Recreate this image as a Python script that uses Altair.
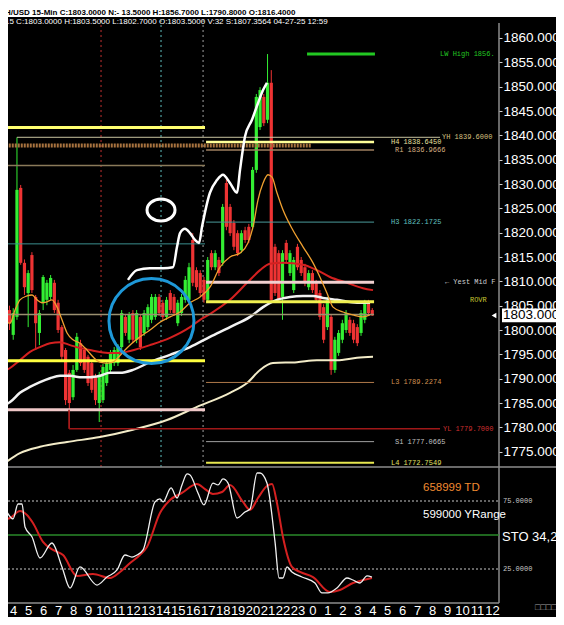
import altair as alt
import pandas as pd

# ---------------- header texts ----------------
header_row1 = "H/USD 15-Min  C:1803.0000  N:- 13.5000  H:1856.7000  L:1790.8000  O:1816.4000"
header_row2 = "15 C:1803.0000 H:1803.5000 L:1802.7000 O:1803.5000 V:32 S:1807.3564 04-27-25 12:59"

# ---------------- 15-minute candles (time in hours from Apr 26 00:00) ----------------
bar_t0 = 3.25
bar_dt = 0.25
opens = [1810.3, 1808.2, 1804.1, 1799.0, 1802.7, 1829.2, 1813.8, 1807.6, 1815.4, 1806.8,
         1799.4, 1805.6, 1806.2, 1806.8, 1809.7, 1805.6, 1800.6, 1795.9, 1791.2, 1786.2,
         1791.8, 1797.3, 1795.9, 1794.5, 1793.2, 1790.3, 1785.0, 1785.6, 1789.1, 1791.8,
         1793.2, 1793.2, 1796.5, 1802.7, 1798.0, 1803.5, 1798.0, 1802.7, 1799.4, 1800.6,
         1802.1, 1802.7, 1806.8, 1805.6, 1802.7, 1807.6, 1806.8, 1801.4, 1803.5, 1806.2,
         1806.2, 1818.5, 1812.3, 1811.7, 1810.3, 1806.2, 1815.8, 1812.9, 1814.4, 1813.8,
         1830.2, 1825.3, 1822.0, 1819.9, 1816.4, 1820.5, 1821.2, 1821.2, 1832.9, 1841.7,
         1847.9, 1843.2, 1850.8, 1817.1, 1815.8, 1806.8, 1817.9, 1811.7, 1808.2, 1817.1,
         1814.4, 1812.9, 1808.8, 1811.7, 1809.7, 1807.6, 1804.7, 1800.6, 1802.7, 1791.8,
         1795.3, 1798.0, 1800.0, 1802.1, 1801.4, 1800.6, 1799.4, 1802.1, 1805.6, 1804.1]
highs = [1810.9, 1809.2, 1805.0, 1804.5, 1839.6, 1829.8, 1814.5, 1812.3, 1816.0, 1807.2,
         1804.1, 1811.3, 1810.3, 1811.3, 1810.3, 1806.2, 1801.0, 1796.3, 1791.8, 1792.8,
         1799.4, 1798.0, 1796.5, 1794.9, 1793.8, 1791.0, 1791.4, 1793.0, 1793.8, 1795.9,
         1796.5, 1797.1, 1804.1, 1803.3, 1803.7, 1804.1, 1804.1, 1803.3, 1804.1, 1805.3,
         1807.4, 1807.4, 1807.4, 1806.2, 1806.8, 1808.2, 1807.4, 1806.2, 1807.4, 1811.1,
         1813.8, 1819.9, 1812.9, 1812.3, 1810.9, 1815.0, 1816.4, 1816.4, 1815.0, 1825.9,
         1831.2, 1825.9, 1822.6, 1820.5, 1820.5, 1821.2, 1821.8, 1833.5, 1848.5, 1849.9,
         1848.5, 1856.7, 1853.4, 1817.7, 1816.4, 1816.4, 1818.5, 1816.4, 1815.0, 1817.7,
         1815.0, 1813.6, 1812.3, 1812.3, 1810.3, 1808.2, 1805.3, 1806.8, 1803.3, 1798.6,
         1800.0, 1802.1, 1804.1, 1802.7, 1802.1, 1801.2, 1804.1, 1806.2, 1806.2, 1804.5]
lows = [1805.6, 1804.1, 1800.0, 1798.0, 1802.1, 1813.4, 1807.2, 1800.6, 1807.6, 1795.9,
        1796.9, 1804.1, 1805.1, 1806.2, 1803.5, 1799.4, 1793.8, 1784.6, 1779.7, 1785.6,
        1791.4, 1792.6, 1791.2, 1788.5, 1787.1, 1784.6, 1781.1, 1785.0, 1788.5, 1791.2,
        1792.6, 1792.6, 1795.9, 1798.8, 1797.3, 1797.3, 1797.3, 1795.9, 1798.8, 1800.0,
        1801.4, 1802.1, 1802.9, 1802.1, 1802.1, 1803.5, 1802.9, 1800.8, 1802.9, 1805.6,
        1805.6, 1809.0, 1808.2, 1807.0, 1805.6, 1805.6, 1812.3, 1812.3, 1811.1, 1813.2,
        1820.5, 1819.3, 1816.4, 1815.2, 1815.8, 1817.9, 1817.9, 1820.5, 1832.3, 1841.1,
        1841.9, 1842.5, 1805.6, 1807.0, 1805.6, 1802.1, 1813.8, 1811.1, 1807.6, 1812.3,
        1811.1, 1809.0, 1808.2, 1807.6, 1805.6, 1802.1, 1797.3, 1800.0, 1790.8, 1791.2,
        1794.7, 1797.3, 1799.4, 1798.8, 1797.3, 1796.7, 1798.8, 1801.4, 1802.9, 1802.9]
closes = [1806.2, 1804.7, 1801.4, 1803.5, 1828.8, 1813.8, 1808.8, 1811.7, 1808.2, 1801.4,
          1803.5, 1810.9, 1809.7, 1810.7, 1804.1, 1800.0, 1794.5, 1785.6, 1785.0, 1791.8,
          1798.6, 1793.2, 1791.8, 1789.1, 1787.7, 1785.6, 1790.8, 1792.4, 1793.2, 1795.3,
          1795.9, 1796.5, 1803.5, 1799.4, 1803.1, 1798.0, 1803.5, 1796.5, 1803.5, 1804.7,
          1806.8, 1806.8, 1803.5, 1802.7, 1806.2, 1804.1, 1803.5, 1805.6, 1806.8, 1810.3,
          1812.9, 1809.7, 1808.8, 1807.6, 1806.2, 1814.4, 1812.9, 1815.8, 1811.7, 1825.3,
          1821.2, 1819.9, 1817.1, 1815.8, 1819.9, 1818.5, 1818.5, 1832.9, 1847.9, 1849.3,
          1842.5, 1850.8, 1806.2, 1807.6, 1806.2, 1815.8, 1814.4, 1815.8, 1814.4, 1812.9,
          1811.7, 1809.7, 1811.7, 1808.2, 1806.2, 1802.7, 1798.0, 1806.2, 1791.8, 1798.0,
          1799.4, 1801.4, 1803.5, 1799.4, 1798.0, 1797.3, 1803.5, 1805.6, 1803.5, 1803.0]

# ---------------- moving averages ----------------
ma_orange_t = [3.12, 3.45, 3.79, 4.12, 4.45, 4.92, 5.26, 5.59, 5.92, 6.26, 6.59, 6.93, 7.26, 7.6,
               8.0, 8.46, 8.93, 9.33, 9.8, 10.27, 10.67, 11.0, 11.47, 11.94, 12.48, 13.14, 13.81,
               14.48, 15.15, 15.82, 16.49, 17.15, 17.82, 18.49, 19.16, 19.69, 20.03, 20.36, 20.7,
               21.03, 21.3, 21.63, 22.03, 22.7, 23.37, 24.04, 24.5, 24.97, 25.38, 26.04, 26.71,
               27.38, 27.85]
ma_orange_p = [1800.6, 1801.6, 1801.4, 1804.1, 1806.2, 1807.0, 1807.2, 1806.2, 1805.6, 1805.8,
               1806.2, 1804.7, 1802.1, 1799.4, 1798.0, 1797.3, 1795.9, 1794.5, 1793.4, 1793.2,
               1793.4, 1794.3, 1795.9, 1797.3, 1798.6, 1800.0, 1801.6, 1802.7, 1803.7, 1805.6,
               1806.8, 1808.8, 1812.9, 1815.0, 1815.8, 1817.9, 1821.2, 1826.7, 1830.2, 1831.9,
               1831.4, 1828.2, 1824.7, 1820.5, 1817.1, 1813.8, 1810.9, 1807.6, 1804.7, 1803.7,
               1803.1, 1802.7, 1803.1]
ma_red_t = [3.12, 3.79, 4.45, 5.12, 5.79, 6.46, 7.13, 7.8, 8.46, 9.13, 9.8, 10.47, 11.14, 11.81,
            13.14, 14.48, 15.82, 16.49, 17.15, 18.49, 19.63, 20.5, 21.16, 22.03, 23.37, 24.3,
            25.17, 26.31, 27.38, 28.05]
ma_red_p = [1791.2, 1792.2, 1793.8, 1795.5, 1796.5, 1797.3, 1797.5, 1796.9, 1796.3, 1795.9,
            1795.5, 1795.3, 1795.3, 1795.7, 1796.9, 1798.4, 1800.6, 1802.1, 1803.3, 1806.2,
            1809.7, 1812.3, 1813.6, 1813.8, 1813.4, 1812.3, 1810.9, 1809.7, 1808.6, 1808.2]
ma_white_t = [3.12, 3.79, 4.45, 5.12, 5.79, 6.46, 7.13, 7.8, 8.46, 9.13, 9.8, 10.47, 11.14, 12.0,
              13.14, 14.48, 15.82, 17.15, 18.49, 19.83, 20.7, 21.63, 22.5, 23.37, 24.04, 24.7,
              25.64, 26.98, 27.85]
ma_white_p = [1784.2, 1785.2, 1787.1, 1788.3, 1789.3, 1790.1, 1790.6, 1790.6, 1790.3, 1790.3,
              1790.6, 1791.2, 1791.2, 1791.8, 1793.4, 1794.9, 1796.5, 1798.6, 1800.6, 1802.7,
              1804.7, 1806.2, 1806.8, 1807.0, 1807.0, 1806.6, 1806.2, 1805.6, 1805.6]
ma_cream_t = [3.12, 4.45, 5.79, 7.6, 9.8, 12.0, 14.28, 16.28, 18.49, 19.63, 20.5, 21.36, 22.97,
              24.3, 25.64, 26.98, 28.05]
ma_cream_p = [1771.9, 1774.7, 1776.0, 1777.0, 1778.0, 1779.5, 1781.5, 1784.2, 1787.1, 1789.1,
              1791.8, 1793.2, 1793.4, 1793.8, 1793.8, 1794.3, 1794.5]

# hand-drawn white stroke
draw_t = [11.67, 12.27, 13.14, 14.01, 14.68, 14.95, 15.15, 15.48, 15.82, 16.15, 16.42, 16.62,
          17.15, 17.62, 18.02, 18.49, 18.96, 19.16, 19.49, 19.96, 20.36, 20.7, 20.96]
draw_p = [1810.3, 1812.3, 1812.7, 1812.7, 1812.9, 1817.1, 1819.9, 1820.8, 1819.9, 1818.5, 1817.9,
          1821.2, 1828.2, 1830.8, 1831.9, 1830.2, 1828.2, 1832.9, 1839.7, 1843.2, 1846.6, 1849.3,
          1850.8]

# ---------------- horizontal levels ----------------
lvl_price = [1856.7, 1841.6, 1839.6, 1838.645, 1836.9666, 1833.8, 1822.1725, 1817.7, 1809.8,
             1805.8, 1803.2, 1793.7, 1789.2274, 1783.6, 1779.7, 1777.0665, 1772.7549]
lvl_t0 = [23.64, 3.1, 4.25, 16.89, 16.89, 3.1, 16.89, 3.1, 16.89, 16.89, 3.1, 3.1, 16.89, 3.1,
          7.73, 16.89, 16.89]
lvl_t1 = [28.18, 16.82, 32.53, 28.12, 28.12, 16.82, 28.12, 16.82, 28.12, 28.12, 28.12, 16.82,
          28.12, 16.82, 32.53, 28.12, 28.12]
lvl_color = ["#22c822", "#ffff70", "#c8c4a0", "#ffff99", "#a08060", "#8a7a5a", "#4a9a9a",
             "#3a8f8f", "#f0d0d0", "#f0f050", "#9a9070", "#ffff40", "#b07a4a", "#f0c8c8",
             "#a01818", "#a0a0a0", "#e8e850"]
lvl_width = [3, 3, 1, 2.5, 1.5, 1.5, 1, 1, 3, 3, 1.5, 3, 1, 3, 1.5, 1, 2]

dotted_price = [1837.9]
dotted_t0 = [3.1]
dotted_t1 = [23.9]

conn_t = [7.73]
conn_p0 = [1783.6]
conn_p1 = [1779.7]

lvl_lab_text = ["LW High 1856.", "YH 1839.6000", "H4 1838.6450", "R1 1836.9666", "H3 1822.1725",
                "\u2190 Yest Mid F", "ROVR", "L3 1789.2274", "YL 1779.7000", "S1 1777.0665",
                "L4 1772.7549"]
lvl_lab_t = [32.53, 32.66, 29.25, 29.52, 29.25, 32.86, 34.53, 29.25, 32.73, 29.52, 29.25]
lvl_lab_p = [1856.7, 1839.6, 1838.645, 1836.9666, 1822.1725, 1809.8, 1806.2, 1789.2274,
             1779.7, 1777.0665, 1772.7549]
lvl_lab_color = ["#22c822", "#d8c080", "#e8e0a0", "#d8b080", "#60c0c0", "#d0d0d0", "#c8c832",
                 "#d09050", "#d03030", "#c0c0c0", "#e0e060"]

# session separators
sess_t = [9.87, 13.88, 16.69]
sess_color = ["#c03030", "#60c0c0", "#a0a0a0"]

# annotations (ellipse and circle)
ellipse_t = [13.88]
ellipse_p = [1824.66]
circle_t = [13.24]
circle_p = [1801.85]

last_price = [1803.0]

# ---------------- stochastic ----------------
k_t = [3.12, 3.45, 3.99, 4.32, 4.59, 4.79, 5.26, 5.79, 6.59, 7.26, 7.8, 8.46, 9.6, 10.27, 10.94,
       11.47, 11.94, 12.27, 12.68, 13.48, 13.81, 14.01, 14.55, 14.95, 15.28, 15.62, 15.82, 16.35,
       16.75, 17.35, 17.69, 18.02, 18.36, 18.96, 19.49, 19.83, 20.3, 20.5, 20.96, 21.5, 21.77,
       22.03, 22.3, 22.63, 23.3, 24.17, 24.64, 25.04, 25.64, 26.31, 26.71, 27.18, 27.65, 27.98]
k_v = [70.6, 68.4, 61.8, 72.8, 72.8, 55.9, 48.5, 33.1, 44.1, 26.5, 11.0, 26.5, 13.2, 19.1, 24.3,
       35.3, 33.8, 35.3, 39.0, 74.3, 76.5, 74.3, 84.6, 77.2, 86.8, 94.9, 94.1, 80.9, 72.1, 88.2,
       86.8, 91.2, 88.2, 62.5, 66.9, 69.1, 95.6, 95.6, 88.2, 44.9, 18.4, 18.4, 26.5, 22.8, 19.1,
       14.7, 7.4, 7.4, 11.0, 18.4, 16.9, 14.7, 19.9, 19.1]
d_t = [3.12, 3.79, 4.45, 4.92, 5.32, 5.99, 6.66, 7.33, 8.26, 9.33, 10.47, 11.14, 11.81, 12.47,
       12.94, 13.81, 14.48, 15.28, 16.28, 16.82, 17.35, 17.96, 18.49, 19.36, 19.83, 20.36, 20.96,
       21.3, 21.63, 22.03, 22.63, 23.17, 24.04, 25.17, 25.84, 26.71, 27.38, 27.98]
d_v = [61.0, 62.5, 67.6, 64.7, 58.8, 44.9, 39.0, 35.3, 19.9, 21.3, 18.4, 22.8, 29.4, 35.3, 41.2,
       66.2, 75.7, 80.9, 87.5, 83.8, 80.1, 81.6, 86.8, 74.3, 68.4, 77.2, 86.0, 87.5, 73.5, 48.5,
       26.5, 22.8, 19.1, 8.1, 9.6, 14.7, 16.9, 18.4]
sto_dashed = [75, 25]
sto_mid = [50]
sto_texts = ["658999 TD", "599000 YRange"]
sto_text_v = [84.6, 64.7]
sto_text_color = ["#f08a30", "#ffffff"]
sto_name = "STO  34,2"

price_ticks = [1775, 1780, 1785, 1790, 1795, 1800, 1805, 1810, 1815, 1820, 1825, 1830, 1835,
               1840, 1845, 1850, 1855, 1860]
hour_ticks = list(range(4, 37))
date_labels = ["Apr 26 Sat", "Apr 27 Sun"]
date_t = [3.5, 23.95]

# ---------------- scales ----------------
W, H = 491, 583
xs = alt.Scale(domain=[3.651, 36.472], nice=False, zero=False)
ps = alt.Scale(domain=[1771.856, 1863.698], range=[447, 0], nice=False, zero=False)
ss = alt.Scale(domain=[0, 100], range=[583, 447], nice=False, zero=False)
FONT = "Liberation Sans"

XAX = alt.Axis(values=hour_ticks, labelExpr="datum.value >= 24 ? datum.value - 24 : datum.value",
               labelColor="#ffffff", labelFontSize=13, labelFont=FONT, tickSize=0,
               domain=False, grid=False, labelPadding=1, labelOverlap=False, labelBound=False,
               labelFlush=False, title=None)
PAX = alt.Axis(orient="right", values=price_ticks, format=".4f", labelColor="#ffffff",
               labelFontSize=13.5, labelFont=FONT, tickColor="#d0d0d0", tickSize=3,
               labelPadding=1, domain=False, grid=False, labelOverlap=False, labelBound=False,
               labelFlush=False, title=None)


def X(f):
    return alt.X(f, type="quantitative", scale=xs, axis=XAX, title=None)


def YP(f, axis=None):
    return alt.Y(f, type="quantitative", scale=ps, axis=axis, title=None)


def YS(f):
    return alt.Y(f, type="quantitative", scale=ss, axis=None, title=None)


one = pd.DataFrame({"k": [0]})
layers = []

# session separators
sess = pd.DataFrame({"t": sess_t, "c": sess_color})
layers.append(alt.Chart(sess).mark_rule(strokeWidth=1, strokeDash=[2, 3]).encode(
    x=X("t"), y=alt.value(0), y2=alt.value(447), color=alt.Color("c:N", scale=None)))

# candles
bars = pd.DataFrame({"t": [bar_t0 + bar_dt * i for i in range(len(opens))],
                     "o": opens, "h": highs, "l": lows, "c": closes})
bars["col"] = ["#33ee33" if c >= o else "#ee3333" for o, c in zip(opens, closes)]
layers.append(alt.Chart(bars).mark_rule(strokeWidth=1).encode(
    x=X("t"), y=YP("l", PAX), y2="h:Q", color=alt.Color("col:N", scale=None)))
layers.append(alt.Chart(bars).mark_rule(strokeWidth=3.2).encode(
    x=X("t"), y=YP("o"), y2="c:Q", color=alt.Color("col:N", scale=None)))


def line(ts, vs, color, width, yfun=YP):
    df = pd.DataFrame({"t": ts, "p": vs})
    return alt.Chart(df).mark_line(color=color, strokeWidth=width, interpolate="monotone").encode(
        x=X("t"), y=yfun("p"))


layers.append(line(ma_cream_t, ma_cream_p, "#f3ecc8", 2))
layers.append(line(ma_white_t, ma_white_p, "#f2f2f2", 2.5))
layers.append(line(ma_red_t, ma_red_p, "#d42020", 2))

# levels
lv = pd.DataFrame({"p": lvl_price, "t0": lvl_t0, "t1": lvl_t1, "c": lvl_color, "w": lvl_width})
layers.append(alt.Chart(lv).mark_rule().encode(
    x=X("t0"), x2="t1:Q", y=YP("p"), color=alt.Color("c:N", scale=None),
    strokeWidth=alt.StrokeWidth("w:Q", scale=None)))
dl = pd.DataFrame({"p": dotted_price, "t0": dotted_t0, "t1": dotted_t1})
layers.append(alt.Chart(dl).mark_rule(color="#a8733f", strokeWidth=4, strokeDash=[2, 1]).encode(
    x=X("t0"), x2="t1:Q", y=YP("p")))
cn = pd.DataFrame({"t": conn_t, "p0": conn_p0, "p1": conn_p1})
layers.append(alt.Chart(cn).mark_rule(color="#a01818", strokeWidth=1.5).encode(
    x=X("t"), y=YP("p0"), y2="p1:Q"))

layers.append(line(ma_orange_t, ma_orange_p, "#f0a030", 1.3))
layers.append(line(draw_t, draw_p, "#ffffff", 2.5))

# ellipse and circle annotations
el = pd.DataFrame({"t": ellipse_t, "p": ellipse_p})
layers.append(alt.Chart(el).mark_point(
    shape="M -1 0 A 1 0.78 0 1 1 1 0 A 1 0.78 0 1 1 -1 0 Z", filled=False, size=784,
    strokeWidth=3, color="#ffffff", opacity=1).encode(x=X("t"), y=YP("p")))
ci = pd.DataFrame({"t": circle_t, "p": circle_p})
layers.append(alt.Chart(ci).mark_point(
    shape="circle", filled=False, size=7225, strokeWidth=3, color="#1e98d8", opacity=1).encode(
    x=X("t"), y=YP("p")))

# level labels
ll = pd.DataFrame({"t": lvl_lab_t, "p": lvl_lab_p, "s": lvl_lab_text, "c": lvl_lab_color})
layers.append(alt.Chart(ll).mark_text(align="left", baseline="middle", font="Liberation Mono",
                                      fontSize=7).encode(
    x=X("t"), y=YP("p"), text="s:N", color=alt.Color("c:N", scale=None)))

# last price marker
lp = pd.DataFrame({"p": last_price, "s": ["%.4f" % v for v in last_price]})
layers.append(alt.Chart(lp).mark_point(
    shape="M -1 -0.22 L 1 -0.22 L 1 0.22 L -1 0.22 Z", filled=True, size=3844,
    color="#ffffff", opacity=1).encode(x=alt.value(525), y=YP("p")))
layers.append(alt.Chart(lp).mark_text(align="left", baseline="middle", font=FONT, fontSize=13.5,
                                      color="#000000").encode(
    x=alt.value(495), y=YP("p"), text="s:N"))
layers.append(alt.Chart(lp).mark_point(shape="triangle-left", filled=True, size=30,
                                       color="#ffffff", opacity=1).encode(
    x=alt.value(486), y=YP("p")))

# panel frame
layers.append(alt.Chart(one).mark_rule(color="#d0d0d0", strokeWidth=1).encode(
    x=alt.value(491), y=alt.value(3), y2=alt.value(583)))
layers.append(alt.Chart(one).mark_rule(color="#8c8c8c", strokeWidth=1.5).encode(
    x=alt.value(0), x2=alt.value(548), y=alt.value(447)))
layers.append(alt.Chart(one).mark_rule(color="#8c8c8c", strokeWidth=1.5).encode(
    x=alt.value(0), x2=alt.value(491), y=alt.value(583)))

# stochastic panel
sd = pd.DataFrame({"v": sto_dashed, "s": ["%.4f" % v for v in sto_dashed]})
layers.append(alt.Chart(sd).mark_rule(color="#c8c8c8", strokeWidth=1, strokeDash=[2, 2]).encode(
    x=alt.value(0), x2=alt.value(491), y=YS("v")))
layers.append(alt.Chart(sd).mark_text(align="left", baseline="middle", font="Liberation Mono",
                                      fontSize=7, color="#c8c8c8").encode(
    x=alt.value(495), y=YS("v"), text="s:N"))
sm = pd.DataFrame({"v": sto_mid})
layers.append(alt.Chart(sm).mark_rule(color="#2a8a2a", strokeWidth=1.5).encode(
    x=alt.value(0), x2=alt.value(491), y=YS("v")))
layers.append(line(d_t, d_v, "#d42020", 2, YS))
layers.append(line(k_t, k_v, "#f0f0f0", 1.3, YS))
st = pd.DataFrame({"v": sto_text_v, "s": sto_texts, "c": sto_text_color})
layers.append(alt.Chart(st).mark_text(align="left", baseline="middle", font=FONT,
                                      fontSize=11.5).encode(
    x=alt.value(415), y=YS("v"), text="s:N", color=alt.Color("c:N", scale=None)))
sn = pd.DataFrame({"v": [48.5], "s": [sto_name]})
layers.append(alt.Chart(sn).mark_text(align="left", baseline="middle", font=FONT, fontSize=13,
                                      color="#ffffff").encode(
    x=alt.value(494), y=YS("v"), text="s:N"))

# bottom small boxes and date labels
layers.append(alt.Chart(one).mark_text(align="left", baseline="middle", fontSize=9,
                                       color="#a0a0a0", text="\u25a1\u25a1\u25a1\u25a1").encode(
    x=alt.value(527), y=alt.value(587)))
dd = pd.DataFrame({"t": date_t, "s": date_labels})
layers.append(alt.Chart(dd).mark_text(align="left", baseline="top", font=FONT, fontSize=11,
                                      color="#ffffff").encode(
    x=X("t"), y=alt.value(597), text="s:N"))

# header rows
layers.append(alt.Chart(one).mark_rect(color="#ffffff").encode(
    x=alt.value(0), x2=alt.value(548), y=alt.value(-12), y2=alt.value(-3)))
hd1 = pd.DataFrame({"s": [header_row1]})
layers.append(alt.Chart(hd1).mark_text(align="left", baseline="middle", font=FONT, fontSize=8,
                                       fontWeight="bold", color="#000000").encode(
    x=alt.value(-3), y=alt.value(-7.5), text="s:N"))
hd2 = pd.DataFrame({"s": [header_row2]})
layers.append(alt.Chart(hd2).mark_text(align="left", baseline="middle", font=FONT, fontSize=8,
                                       color="#ffffff").encode(
    x=alt.value(-3), y=alt.value(2), text="s:N"))

chart = alt.layer(*layers).resolve_scale(y="independent").properties(
    width=W, height=H,
    padding={"left": 0, "top": 12, "right": 57, "bottom": 14},
    autosize=alt.AutoSizeParams(type="none"),
).configure(background="#000000").configure_view(strokeWidth=0)

chart.save("out.html", embed_options={"renderer": "svg", "actions": False})
